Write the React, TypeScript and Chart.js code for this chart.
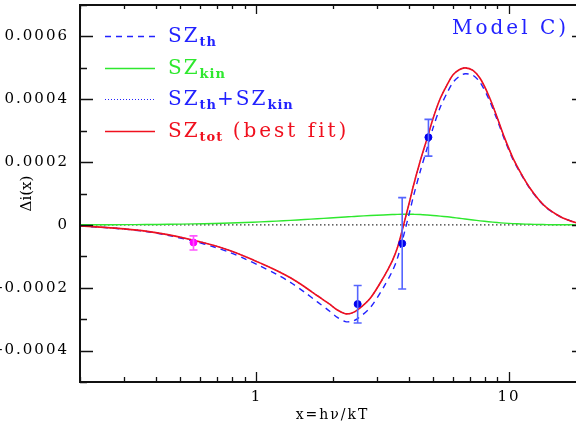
import React, { useEffect, useRef } from 'react';
import { Chart, registerables } from 'chart.js';

Chart.register(...registerables);

// ---- data ----
const xVals = [0.2, 0.25, 0.3, 0.364, 0.45, 0.564, 0.68, 0.789, 0.9, 1.037, 1.2, 1.363, 1.55, 1.742, 1.95, 2.09, 2.248, 2.374, 2.507, 2.822, 3.177, 3.45, 3.609, 3.776, 4.062, 4.175, 4.45, 4.743, 5.0, 5.337, 5.7, 6.006, 6.35, 6.701, 7.2, 7.68, 8.3, 8.97, 9.6, 10.37, 11.2, 12.1, 13.1, 14.13, 15.2, 16.35, 18.6, 20];

const szTot = [-0.0000032, -0.0000079, -0.0000127, -0.0000197, -0.0000317, -0.0000486, -0.0000657, -0.0000825, -0.0001003, -0.0001216, -0.0001448, -0.0001683, -0.0001968, -0.0002254, -0.0002524, -0.0002708, -0.0002825, -0.000281, -0.0002714, -0.0002333, -0.0001683, -0.0001143, -0.0000746, -0.0000175, 0.0000825, 0.0001222, 0.0002032, 0.0002762, 0.0003381, 0.0004016, 0.0004476, 0.0004778, 0.0004937, 0.0005, 0.0004921, 0.0004667, 0.0004127, 0.0003429, 0.0002778, 0.0002127, 0.0001619, 0.0001175, 0.000081, 0.000054, 0.0000365, 0.0000222, 0.0000063, 0.0000025];

const szKin = [0.0000003, 0.0000005, 0.0000008, 0.0000012, 0.000002, 0.0000032, 0.0000046, 0.000006, 0.0000077, 0.0000097, 0.000012, 0.0000145, 0.0000172, 0.0000197, 0.0000222, 0.0000237, 0.0000252, 0.0000264, 0.0000275, 0.0000298, 0.0000318, 0.000033, 0.0000336, 0.000034, 0.000034, 0.0000338, 0.000033, 0.0000315, 0.00003, 0.000028, 0.0000258, 0.0000237, 0.0000213, 0.000019, 0.0000158, 0.000013, 0.0000101, 0.0000076, 0.0000058, 0.0000042, 0.000003, 0.0000021, 0.0000014, 0.0000009, 0.0000006, 0.0000004, 0.0000002, 0.0000001];

const szTh = [-0.0000035, -0.0000084, -0.0000135, -0.0000209, -0.0000337, -0.0000518, -0.0000703, -0.0000885, -0.000108, -0.0001313, -0.0001568, -0.0001828, -0.000214, -0.0002451, -0.0002746, -0.0002945, -0.0003077, -0.0003074, -0.0002989, -0.0002631, -0.0002001, -0.0001473, -0.0001082, -0.0000515, 0.0000485, 0.0000884, 0.0001702, 0.0002447, 0.0003081, 0.0003736, 0.0004218, 0.0004541, 0.0004724, 0.000481, 0.0004763, 0.0004537, 0.0004026, 0.0003353, 0.000272, 0.0002085, 0.0001589, 0.0001154, 0.0000796, 0.0000531, 0.0000359, 0.0000218, 0.0000061, 0.0000024];

const szThPlusKin = [-0.0000032, -0.0000079, -0.0000127, -0.0000197, -0.0000317, -0.0000486, -0.0000657, -0.0000825, -0.0001003, -0.0001216, -0.0001448, -0.0001683, -0.0001968, -0.0002254, -0.0002524, -0.0002708, -0.0002825, -0.000281, -0.0002714, -0.0002333, -0.0001683, -0.0001143, -0.0000746, -0.0000175, 0.0000825, 0.0001222, 0.0002032, 0.0002762, 0.0003381, 0.0004016, 0.0004476, 0.0004778, 0.0004937, 0.0005, 0.0004921, 0.0004667, 0.0004127, 0.0003429, 0.0002778, 0.0002127, 0.0001619, 0.0001175, 0.000081, 0.000054, 0.0000365, 0.0000222, 0.0000063, 0.0000025];

const zeroX = [0.2, 20];
const zeroY = [0, 0];

// measured points (magenta first, then blue)
const magX = [0.563];
const magY = [-0.000056];
const magErrHi = [0.000021];
const magErrLo = [0.000024];

const blueX = [2.516, 3.776, 4.797];
const blueY = [-0.000252, -0.000059, 0.000279];
const blueErrHi = [0.000059, 0.000146, 0.000057];
const blueErrLo = [0.00006, 0.000145, 0.00006];

const xTickValues = [0.2, 0.3, 0.4, 0.5, 0.6, 0.7, 0.8, 0.9, 1, 2, 3, 4, 5, 6, 7, 8, 9, 10, 20];
const xMajorTicks = [1, 10];
const yMin = -0.0005;
const yMax = 0.0007;
const yStep = 0.0001;

const legendLabels = [
  [{ t: 'SZ' }, { t: 'th', sub: true }],
  [{ t: 'SZ' }, { t: 'kin', sub: true }],
  [{ t: 'SZ' }, { t: 'th', sub: true }, { t: '+' }, { t: 'SZ' }, { t: 'kin', sub: true }],
  [{ t: 'SZ' }, { t: 'tot', sub: true }, { t: ' (best fit)', wide: true }],
];
const modelLabel = 'Model C)';
const yTitle = 'Δi(x)';
const xTitle = 'x=hν/kT';

// ---- styles ----
const RED = '#f0101e';
const BLUE = '#2222ff';
const GREEN = '#2ee82e';
const MAGENTA = '#ff00ff';
const FONT = '"DejaVu Serif", serif';

const pts = (xs: number[], ys: number[]) => xs.map((x, i) => ({ x, y: ys[i] }));

const spacingPlugin = {
  id: 'spacing',
  beforeLayout(chart: any) { chart.ctx.letterSpacing = '2px'; },
  beforeDraw(chart: any) { chart.ctx.letterSpacing = '2px'; },
};

const errorBarPlugin = {
  id: 'errorBars',
  afterDatasetsDraw(chart: any) {
    const { ctx, scales } = chart;
    const xs = scales.x, ys = scales.y;
    const draw = (X: number[], Y: number[], hi: number[], lo: number[], color: string) => {
      ctx.save();
      ctx.strokeStyle = color;
      ctx.lineWidth = 1.6;
      X.forEach((xv, i) => {
        const px = xs.getPixelForValue(xv);
        const pTop = ys.getPixelForValue(Y[i] + hi[i]);
        const pBot = ys.getPixelForValue(Y[i] - lo[i]);
        ctx.beginPath();
        ctx.moveTo(px, pTop); ctx.lineTo(px, pBot);
        ctx.moveTo(px - 4, pTop); ctx.lineTo(px + 4, pTop);
        ctx.moveTo(px - 4, pBot); ctx.lineTo(px + 4, pBot);
        ctx.stroke();
      });
      ctx.restore();
    };
    draw(magX, magY, magErrHi, magErrLo, '#ff55ff');
    draw(blueX, blueY, blueErrHi, blueErrLo, '#5565ff');
  },
};

const framePlugin = {
  id: 'frame',
  afterDatasetsDraw(chart: any) {
    const { ctx, chartArea, scales } = chart;
    const { left, right, top, bottom } = chartArea;
    ctx.save();
    ctx.strokeStyle = '#111';
    ctx.lineWidth = 1.3;
    ctx.beginPath();
    scales.y.ticks.forEach((t: any) => {
      const py = Math.round(scales.y.getPixelForValue(t.value)) + 0.5;
      const major = Math.round(t.value * 1e4) % 2 === 0;
      const L = major ? 13 : 7;
      ctx.moveTo(left, py); ctx.lineTo(left + L, py);
      ctx.moveTo(right, py); ctx.lineTo(right - L, py);
    });
    scales.x.ticks.forEach((t: any) => {
      const px = Math.round(scales.x.getPixelForValue(t.value)) + 0.5;
      const major = xMajorTicks.includes(t.value);
      ctx.moveTo(px, bottom); ctx.lineTo(px, bottom - (major ? 10 : 5));
      ctx.moveTo(px, top); ctx.lineTo(px, top + (major ? 9 : 4));
    });
    ctx.stroke();
    ctx.lineWidth = 2;
    ctx.strokeRect(left, top, right - left, bottom - top);
    ctx.restore();
  },
};

const legendPlugin = {
  id: 'customLegend',
  afterDraw(chart: any) {
    const { ctx, chartArea } = chart;
    const { left, top, bottom } = chartArea;
    const styles = [
      { color: BLUE, dash: [6, 5], width: 1.4 },
      { color: GREEN, dash: [], width: 1.4 },
      { color: BLUE, dash: [1, 2], width: 1.2 },
      { color: RED, dash: [], width: 1.4 },
    ];
    ctx.save();
    legendLabels.forEach((parts, i) => {
      const y = top + 31 + i * 31.7;
      const st = styles[i];
      ctx.strokeStyle = st.color;
      ctx.lineWidth = st.width;
      ctx.setLineDash(st.dash);
      ctx.beginPath();
      ctx.moveTo(left + 25, Math.round(y) + 0.5);
      ctx.lineTo(left + 75, Math.round(y) + 0.5);
      ctx.stroke();
      ctx.setLineDash([]);
      ctx.fillStyle = st.color;
      ctx.textAlign = 'left';
      ctx.textBaseline = 'alphabetic';
      let x = left + 88;
      const base = y + 6;
      parts.forEach((p: any) => {
        if (p.sub) {
          ctx.font = `bold 13px ${FONT}`;
          ctx.letterSpacing = '1px';
          ctx.fillText(p.t, x, base + 4);
        } else {
          ctx.font = `20px ${FONT}`;
          ctx.letterSpacing = p.wide ? '3px' : '2px';
          ctx.fillText(p.t, x, base);
        }
        x += ctx.measureText(p.t).width;
      });
    });
    ctx.font = `20px ${FONT}`;
    ctx.letterSpacing = '3px';
    ctx.fillStyle = BLUE;
    ctx.fillText(modelLabel, left + 372, top + 29);

    // y axis title, rotated
    ctx.font = `15px ${FONT}`;
    ctx.letterSpacing = '0px';
    ctx.fillStyle = '#000';
    ctx.translate(27, (top + bottom) / 2);
    ctx.rotate(-Math.PI / 2);
    ctx.textAlign = 'center';
    ctx.textBaseline = 'middle';
    ctx.fillText(yTitle, 0, 0);
    ctx.restore();
  },
};

export default function App() {
  const ref = useRef<HTMLCanvasElement>(null);
  useEffect(() => {
    const canvas = ref.current!;
    Chart.defaults.font.family = FONT;
    Chart.defaults.color = '#000';
    const lineBase = { pointRadius: 0, tension: 0.3 };
    const chart = new Chart(canvas, {
      type: 'line',
      data: {
        datasets: [
          { label: 'data', data: pts(magX, magY), showLine: false, pointRadius: 3.5, pointBackgroundColor: MAGENTA, pointBorderColor: MAGENTA, borderColor: MAGENTA },
          { label: 'data2', data: pts(blueX, blueY), showLine: false, pointRadius: 3.5, pointBackgroundColor: '#0000ee', pointBorderColor: '#0000ee', borderColor: '#0000ee' },
          { label: 'SZtot', data: pts(xVals, szTot), borderColor: RED, borderWidth: 1.6, ...lineBase },
          { label: 'SZth+SZkin', data: pts(xVals, szThPlusKin), borderColor: BLUE, borderWidth: 1.2, borderDash: [1, 2], ...lineBase },
          { label: 'SZth', data: pts(xVals, szTh), borderColor: BLUE, borderWidth: 1.4, borderDash: [6, 5], ...lineBase },
          { label: 'SZkin', data: pts(xVals, szKin), borderColor: GREEN, borderWidth: 1.4, ...lineBase },
          { label: 'zero', data: pts(zeroX, zeroY), borderColor: '#333', borderWidth: 1.2, borderDash: [1.5, 2.5], pointRadius: 0 },
        ],
      },
      options: {
        responsive: false,
        animation: false,
        events: [],
        layout: { padding: { top: 3, right: 15, left: 0, bottom: 0 } },
        plugins: { legend: { display: false }, tooltip: { enabled: false } },
        scales: {
          x: {
            type: 'logarithmic',
            min: 0.2,
            max: 20,
            afterBuildTicks: (axis: any) => { axis.ticks = xTickValues.map((v) => ({ value: v })); },
            afterFit: (axis: any) => { axis.height = 46; axis.paddingLeft = 0; axis.paddingRight = 0; axis.paddingTop = 0; axis.paddingBottom = 0; },
            grid: { display: false, drawTicks: false },
            border: { display: false },
            ticks: {
              autoSkip: false,
              maxRotation: 0,
              padding: 6.6,
              font: { size: 15, family: FONT },
              color: '#000',
              callback: (v: any) => (xMajorTicks.includes(Number(v)) ? String(v) : ''),
            },
            title: { display: true, text: xTitle, font: { size: 14, family: FONT }, color: '#000', padding: { top: 0, bottom: 4.6 } },
          },
          y: {
            type: 'linear',
            min: yMin,
            max: yMax,
            afterFit: (axis: any) => { axis.width = 80; axis.paddingTop = 0; axis.paddingBottom = 0; axis.paddingLeft = 0; axis.paddingRight = 0; },
            grid: { display: false, drawTicks: false },
            border: { display: false },
            ticks: {
              stepSize: yStep,
              autoSkip: false,
              padding: 11,
              font: { size: 15, family: FONT },
              color: '#000',
              callback: (v: any) => {
                const n = Math.round(Number(v) * 1e4);
                if (n % 2 !== 0) return '';
                if (n === 0) return '0';
                return (n / 1e4).toFixed(4);
              },
            },
            title: { display: false },
          },
        },
      } as any,
      plugins: [spacingPlugin, errorBarPlugin, framePlugin, legendPlugin],
    });
    return () => chart.destroy();
  }, []);

  return (
    <div style={{ position: 'fixed', left: 0, top: 0, width: 576, height: 428, overflow: 'hidden', background: '#fff' }}>
      <canvas ref={ref} width={600} height={428} style={{ display: 'block' }} />
    </div>
  );
}
